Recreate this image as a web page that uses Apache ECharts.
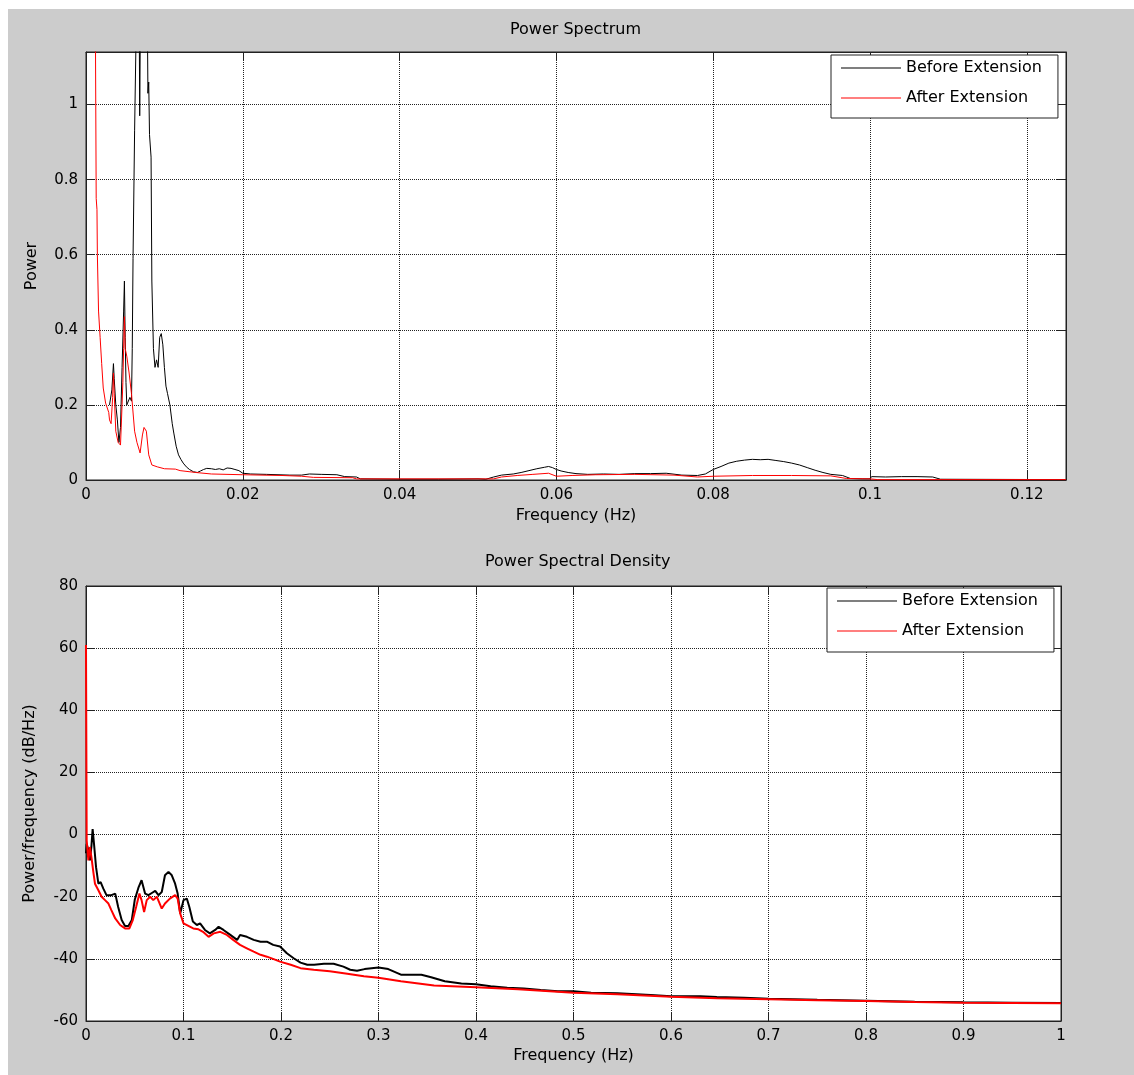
<!DOCTYPE html>
<html>
<head>
<meta charset="utf-8">
<script src="https://cdn.jsdelivr.net/npm/echarts@6/dist/echarts.min.js"></script>
<style>
  html, body { margin: 0; padding: 0; background: #fff; }
  #chart { position: absolute; left: 8px; top: 9px; width: 1126px; height: 1066px; background: #cccccc; }
</style>
</head>
<body>
<div id="chart"></div>
<script>
// power spectrum, [frequency (Hz), power]
var psBefore = [
  [0.0030, 0.20], [0.0033, 0.24], [0.0035, 0.31], [0.0036, 0.27], [0.0038, 0.20], [0.0040, 0.16],
  [0.0042, 0.10], [0.0044, 0.14], [0.0046, 0.30], [0.0048, 0.45], [0.0049, 0.53], [0.0050, 0.38],
  [0.0051, 0.26], [0.0052, 0.20], [0.0054, 0.20], [0.0056, 0.22], [0.0058, 0.21], [0.0059, 0.35],
  [0.0060, 0.59], [0.0062, 0.93], [0.0064, 1.20], [0.0066, 1.50], [0.0067, 1.60], [0.00685, 0.97],
  [0.0070, 1.40], [0.0072, 1.80], [0.0075, 1.70], [0.0078, 1.30], [0.0079, 1.03], [0.0080, 1.06],
  [0.0081, 0.92], [0.0083, 0.86], [0.0084, 0.53], [0.0086, 0.35], [0.0088, 0.30], [0.0090, 0.32],
  [0.0092, 0.30], [0.0094, 0.38], [0.0096, 0.39], [0.0098, 0.36], [0.0100, 0.30], [0.0102, 0.25],
  [0.0104, 0.23], [0.0107, 0.20], [0.0110, 0.15], [0.0112, 0.125], [0.0115, 0.09], [0.0118, 0.067],
  [0.0121, 0.055], [0.0124, 0.045], [0.0128, 0.035], [0.0132, 0.028], [0.0137, 0.022], [0.0142, 0.020],
  [0.0146, 0.024], [0.0150, 0.028], [0.0154, 0.031], [0.0160, 0.030], [0.0165, 0.028], [0.0170, 0.030],
  [0.0175, 0.027], [0.0180, 0.032], [0.0185, 0.031], [0.0190, 0.028], [0.0195, 0.025], [0.0200, 0.018],
  [0.0210, 0.016], [0.0230, 0.015], [0.0260, 0.013], [0.0275, 0.013], [0.0285, 0.016], [0.0300, 0.015],
  [0.0320, 0.014], [0.0330, 0.009], [0.0345, 0.008], [0.0350, 0.003], [0.0400, 0.002], [0.0450, 0.002],
  [0.0500, 0.003], [0.0510, 0.002], [0.0520, 0.008], [0.0530, 0.013], [0.0545, 0.016], [0.0555, 0.020],
  [0.0565, 0.025], [0.0575, 0.030], [0.0585, 0.034], [0.0590, 0.036], [0.0595, 0.033], [0.0600, 0.028],
  [0.0606, 0.024], [0.0615, 0.020], [0.0625, 0.017], [0.0640, 0.015], [0.0660, 0.016], [0.0680, 0.015],
  [0.0700, 0.017], [0.0720, 0.017], [0.0740, 0.018], [0.0760, 0.013], [0.0780, 0.012], [0.0790, 0.016],
  [0.0800, 0.028], [0.0810, 0.036], [0.0820, 0.045], [0.0830, 0.050], [0.0840, 0.053], [0.0850, 0.055],
  [0.0860, 0.054], [0.0870, 0.055], [0.0880, 0.052], [0.0890, 0.049], [0.0900, 0.045], [0.0910, 0.040],
  [0.0920, 0.033], [0.0930, 0.026], [0.0940, 0.020], [0.0950, 0.015], [0.0965, 0.012], [0.0975, 0.004],
  [0.0990, 0.003], [0.1000, 0.003], [0.1002, 0.009], [0.1020, 0.008], [0.1040, 0.009], [0.1060, 0.009],
  [0.1080, 0.008], [0.1090, 0.002], [0.1250, 0.001]
];
var psAfter = [
  [0.0011, 2.50], [0.0012, 1.20], [0.0013, 0.75], [0.0014, 0.72], [0.00145, 0.60], [0.0016, 0.45],
  [0.0018, 0.38], [0.0020, 0.31], [0.0022, 0.245], [0.0025, 0.205], [0.0029, 0.18], [0.0030, 0.16],
  [0.0032, 0.15], [0.0034, 0.22], [0.0035, 0.285], [0.0036, 0.23], [0.0038, 0.13], [0.0041, 0.10],
  [0.0044, 0.093], [0.0046, 0.20], [0.0047, 0.26], [0.0048, 0.35], [0.0049, 0.435], [0.0050, 0.35],
  [0.0052, 0.33], [0.0055, 0.285], [0.0058, 0.23], [0.0062, 0.13], [0.0065, 0.10], [0.0069, 0.072],
  [0.0072, 0.12], [0.0074, 0.14], [0.0077, 0.13], [0.0080, 0.067], [0.0084, 0.04], [0.0091, 0.035],
  [0.0100, 0.030], [0.0114, 0.029], [0.0120, 0.025], [0.0140, 0.020], [0.0160, 0.016], [0.0200, 0.014],
  [0.0250, 0.012], [0.0275, 0.010], [0.0290, 0.007], [0.0340, 0.006], [0.0345, 0.003], [0.0520, 0.003],
  [0.0530, 0.008], [0.0550, 0.012], [0.0570, 0.015], [0.0590, 0.018], [0.0600, 0.010], [0.0620, 0.012],
  [0.0650, 0.014], [0.0700, 0.015], [0.0750, 0.013], [0.0780, 0.008], [0.0800, 0.010], [0.0850, 0.012],
  [0.0900, 0.012], [0.0950, 0.011], [0.0970, 0.004], [0.1000, 0.003], [0.1010, 0.001], [0.1250, 0.001]
];

// power spectral density, [frequency (Hz), dB/Hz]
var psdBefore = [
  [0, -6], [0.0007, -3], [0.0024, -5], [0.004, -8.3], [0.0055, -4], [0.0068, 1.8], [0.0085, -4],
  [0.0103, -10.5], [0.0127, -15.8], [0.015, -15.3], [0.0178, -17.4], [0.021, -19.5], [0.026, -19.5],
  [0.030, -19], [0.033, -23.3], [0.0366, -27.5], [0.040, -29.4], [0.0435, -29.4], [0.047, -27.5],
  [0.050, -21], [0.054, -16.9], [0.057, -14.7], [0.0606, -19], [0.064, -19.5], [0.0675, -18.8],
  [0.071, -18.1], [0.0743, -19.5], [0.0777, -18.5], [0.081, -13.1], [0.0846, -12], [0.088, -13.1],
  [0.0914, -15.8], [0.094, -19], [0.0966, -25.4], [0.100, -21.1], [0.1034, -20.6], [0.106, -23.3],
  [0.1096, -28], [0.1137, -29.1], [0.117, -28.6], [0.122, -30.7], [0.127, -31.8], [0.1325, -30.7],
  [0.136, -29.7], [0.141, -30.7], [0.148, -32.3], [0.155, -33.9], [0.158, -32.3], [0.165, -32.9],
  [0.172, -33.9], [0.179, -34.5], [0.186, -34.5], [0.192, -35.5], [0.199, -36], [0.206, -38.2],
  [0.213, -39.8], [0.220, -41.2], [0.227, -41.9], [0.234, -41.9], [0.244, -41.6], [0.254, -41.6],
  [0.264, -42.5], [0.271, -43.5], [0.278, -43.8], [0.2857, -43.3], [0.300, -42.8], [0.310, -43.3],
  [0.323, -45.1], [0.333, -45.1], [0.344, -45.1], [0.354, -45.9], [0.368, -47.2], [0.385, -47.9],
  [0.400, -48.2], [0.415, -48.8], [0.432, -49.3], [0.449, -49.5], [0.4665, -50], [0.484, -50.4],
  [0.500, -50.4], [0.518, -50.9], [0.545, -51.1], [0.579, -51.6], [0.600, -52], [0.630, -52],
  [0.647, -52.3], [0.675, -52.5], [0.700, -52.8], [0.750, -53.2], [0.800, -53.5], [0.850, -53.8],
  [0.900, -54], [0.950, -54.1], [1.000, -54.2]
];
var psdAfter = [
  [0, 61], [0.0007, -1.9], [0.0024, -8.3], [0.004, -4], [0.0058, -7.8], [0.0075, -12], [0.0092, -15.8],
  [0.0127, -17.9], [0.016, -20], [0.0195, -21.1], [0.023, -22.2], [0.026, -24.3], [0.03, -27],
  [0.035, -29.1], [0.04, -30.2], [0.0445, -30.2], [0.048, -27.5], [0.0514, -23.3], [0.0548, -19],
  [0.057, -21.1], [0.0596, -24.9], [0.0623, -21.1], [0.0658, -20], [0.069, -21.1], [0.0726, -20],
  [0.0777, -23.8], [0.081, -22.2], [0.086, -20.6], [0.0914, -19.5], [0.094, -20.6], [0.0966, -25.4],
  [0.1, -28.6], [0.105, -29.4], [0.11, -30.2], [0.1154, -30.5], [0.12, -31.3], [0.1257, -32.9],
  [0.131, -31.8], [0.1377, -31.3], [0.1445, -32.3], [0.151, -33.9], [0.158, -35.5], [0.165, -36.6],
  [0.172, -37.7], [0.179, -38.7], [0.1856, -39.3], [0.1925, -40.1], [0.199, -40.9], [0.21, -41.9],
  [0.22, -43], [0.2336, -43.5], [0.25, -44], [0.268, -44.8], [0.285, -45.6], [0.3, -46.1],
  [0.323, -47.2], [0.357, -48.6], [0.4, -49.1], [0.443, -49.8], [0.5, -50.9], [0.545, -51.4],
  [0.6, -52.2], [0.647, -52.7], [0.7, -53], [0.75, -53.3], [0.8, -53.6], [0.85, -53.9],
  [0.9, -54.1], [0.95, -54.2], [1, -54.3]
];

var seriesNames = ['Before Extension', 'After Extension'];
var titles = ['Power Spectrum', 'Power Spectral Density'];

var FONT = 'DejaVu Sans';
var ink = '#000';
// thin horizontal bar used as the legend sample line
var lineIcon = 'path://M0,0H60V1H0Z';

function valueAxis(gridIndex, pos, min, max, interval, opts) {
  var main = pos === 'bottom' || pos === 'left';
  var ax = {
    type: 'value', gridIndex: gridIndex, position: pos,
    min: min, max: max, interval: interval,
    axisLine: { show: true, onZero: false, lineStyle: { color: '#222', width: 1 } },
    axisTick: { show: true, inside: true, length: 9, lineStyle: { color: '#222' } },
    axisLabel: { show: main, color: ink, fontFamily: FONT, fontSize: 15, margin: 8, showMaxLabel: opts && opts.hideMax ? false : null },
    splitLine: { show: main, lineStyle: { color: '#222', type: [1, 1], width: 1 } }
  };
  if (opts && opts.name) {
    ax.name = opts.name;
    ax.nameLocation = 'middle';
    ax.nameGap = opts.gap;
    ax.nameTextStyle = { color: ink, fontFamily: FONT, fontSize: 16 };
  }
  return ax;
}

function legendBox(left, top, padBottom) {
  return {
    left: left, top: top, orient: 'vertical', data: seriesNames,
    icon: lineIcon, symbolKeepAspect: true,
    itemWidth: 60, itemHeight: 16, itemGap: 14, padding: [5, 16, padBottom, 10],
    backgroundColor: '#fff', borderColor: '#222', borderWidth: 1, borderRadius: 0,
    textStyle: { color: ink, fontFamily: FONT, fontSize: 16 }, selectedMode: false
  };
}

var chart = echarts.init(document.getElementById('chart'));
chart.setOption({
  backgroundColor: '#cccccc',
  animation: false,
  graphic: [
    { type: 'text', left: 568 - 66, top: 13, style: { text: titles[0], fill: ink, font: '16px "DejaVu Sans"' } },
    { type: 'text', left: 565 - 88, top: 545, style: { text: titles[1], fill: ink, font: '16px "DejaVu Sans"' } }
  ],
  grid: [
    { left: 78, top: 43, width: 980, height: 428, show: true, backgroundColor: '#fff', borderColor: '#222', borderWidth: 1 },
    { left: 78, top: 577, width: 975, height: 435, show: true, backgroundColor: '#fff', borderColor: '#222', borderWidth: 1 }
  ],
  legend: [legendBox(823, 46, 12), legendBox(819, 579, 13)],
  xAxis: [
    valueAxis(0, 'bottom', 0, 0.125, 0.02, { hideMax: true, name: 'Frequency (Hz)', gap: 28 }),
    valueAxis(0, 'top', 0, 0.125, 0.02),
    valueAxis(1, 'bottom', 0, 1, 0.1, { name: 'Frequency (Hz)', gap: 27 }),
    valueAxis(1, 'top', 0, 1, 0.1)
  ],
  yAxis: [
    valueAxis(0, 'left', 0, 1.14, 0.2, { hideMax: true, name: 'Power', gap: 46 }),
    valueAxis(0, 'right', 0, 1.14, 0.2),
    valueAxis(1, 'left', -60, 80, 20, { name: 'Power/frequency (dB/Hz)', gap: 48 }),
    valueAxis(1, 'right', -60, 80, 20)
  ],
  series: [
    { name: seriesNames[0], type: 'line', xAxisIndex: 0, yAxisIndex: 0, data: psBefore, symbol: 'none', clip: true, lineStyle: { color: '#000', width: 1 }, itemStyle: { color: '#000' } },
    { name: seriesNames[1], type: 'line', xAxisIndex: 0, yAxisIndex: 0, data: psAfter, symbol: 'none', clip: true, lineStyle: { color: '#ff0000', width: 1 }, itemStyle: { color: '#ff0000' } },
    { name: seriesNames[0], type: 'line', xAxisIndex: 2, yAxisIndex: 2, data: psdBefore, symbol: 'none', clip: true, lineStyle: { color: '#000', width: 2 }, itemStyle: { color: '#000' } },
    { name: seriesNames[1], type: 'line', xAxisIndex: 2, yAxisIndex: 2, data: psdAfter, symbol: 'none', clip: true, lineStyle: { color: '#ff0000', width: 2 }, itemStyle: { color: '#ff0000' } }
  ]
});
window.onresize = chart.resize;
</script>
</body>
</html>
